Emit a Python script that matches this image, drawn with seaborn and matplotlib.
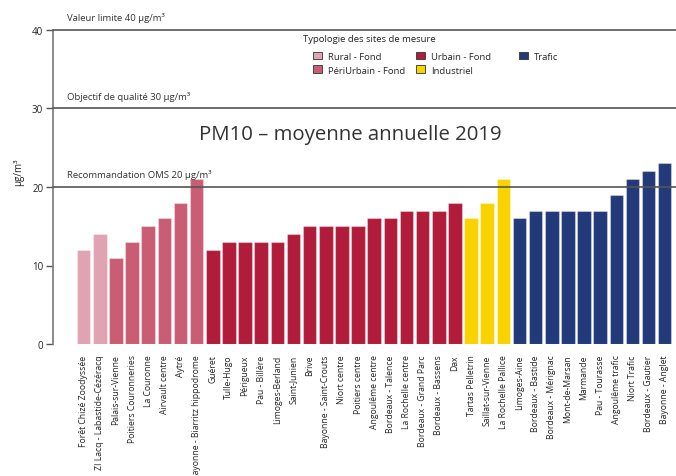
import matplotlib
matplotlib.use("Agg")
import matplotlib.pyplot as plt
import matplotlib.transforms as mtransforms
import seaborn as sns
import pandas as pd
from matplotlib.patches import Patch

sites = ["Forêt Chizé Zoodyssée", "ZI Lacq - Labastide-Cézéracq",
         "Palais-sur-Vienne", "Poitiers Couronneries", "La Couronne", "Airvault centre", "Aytré",
         "Bayonne - Biarritz hippodrome",
         "Guéret", "Tulle-Hugo", "Périgueux", "Pau - Billère", "Limoges-Berland", "Saint-Junien",
         "Brive", "Bayonne - Saint-Crouts", "Niort centre", "Poitiers centre", "Angoulême centre",
         "Bordeaux - Talence", "La Rochelle centre", "Bordeaux - Grand Parc", "Bordeaux - Bassens", "Dax",
         "Tartas Pelletrin", "Saillat-sur-Vienne", "La Rochelle Pallice",
         "Limoges-Aine", "Bordeaux - Bastide", "Bordeaux - Mérignac", "Mont-de-Marsan", "Marmande",
         "Pau - Tourasse", "Angoulême trafic", "Niort Trafic", "Bordeaux - Gautier", "Bayonne - Anglet"]
values = [12, 14,
          11, 13, 15, 16, 18, 21,
          12, 13, 13, 13, 13, 14, 15, 15, 15, 15, 16, 16, 17, 17, 17, 18,
          16, 18, 21,
          16, 17, 17, 17, 17, 17, 19, 21, 22, 23]
types = (["Rural - Fond"] * 2 + ["PériUrbain - Fond"] * 6 + ["Urbain - Fond"] * 16 +
         ["Industriel"] * 3 + ["Trafic"] * 10)
type_order = ["Rural - Fond", "PériUrbain - Fond", "Urbain - Fond", "Industriel", "Trafic"]
type_colors = ["#E0A3B1", "#C95D73", "#B01C3A", "#F9D300", "#223A7A"]
thresholds = [40, 30, 20]
threshold_labels = ["Valeur limite 40 µg/m³", "Objectif de qualité 30 µg/m³",
                    "Recommandation OMS 20 µg/m³"]
title = "PM10 – moyenne annuelle 2019"
legend_title = "Typologie des sites de mesure"

df = pd.DataFrame({"site": sites, "value": values, "type": types})

sns.set_style("white")
plt.rcParams["font.family"] = ["Open Sans", "DejaVu Sans"]

W, H = 676, 477
fig = plt.figure(figsize=(W / 100, H / 100), dpi=100)
ax = fig.add_axes([53 / W, 1 - 345 / H, 1 - 53 / W, (345 - 31) / H])

palette = dict(zip(type_order, type_colors))
sns.barplot(data=df, x="site", y="value", hue="type", hue_order=type_order,
            palette=palette, dodge=False, width=0.84, edgecolor=(1, 1, 1, 0.35),
            linewidth=0.8, legend=False, ax=ax, saturation=1)

ax.set_xlim(-1.9, len(sites) - 0.3)
ax.set_ylim(0, 40)
ax.set_yticks([0, 10, 20, 30, 40])
for t, lab in zip(thresholds, threshold_labels):
    ax.axhline(t, color="#555555", lw=1.2, zorder=5, clip_on=False)
    ax.annotate(lab, xy=(0, t), xycoords=("axes fraction", "data"),
                xytext=(10, 5.5), textcoords="offset points", fontsize=6.8,
                color="#333333", va="bottom", ha="left")

ax.text(0.478, 26.7, title,
        transform=mtransforms.blended_transform_factory(ax.transAxes, ax.transData),
        fontsize=14.7, color="#333333", ha="center", va="center")

for s in ["top", "right", "bottom"]:
    ax.spines[s].set_visible(False)
ax.spines["left"].set_color("#777777")
ax.spines["left"].set_linewidth(1.2)
ax.tick_params(axis="y", left=True, length=5, width=1, color="#555555", labelsize=7,
               labelcolor="#222222", pad=2)
ax.tick_params(axis="x", bottom=False, labelsize=6.2, labelcolor="#222222", rotation=90, pad=4)
ax.set_xlabel("")
ax.set_ylabel("µg/m³", fontsize=7, color="#222222")
ax.yaxis.set_label_coords(-0.046, 0.55)

# legend: title + three equally spaced columns
fig.text(303 / W, 1 - 40 / H, legend_title, fontsize=6.8, color="#222222",
         ha="left", va="center")
columns = [[0, 1], [2, 3], [4]]
col_x = [313, 416, 519]
for idx, cx in zip(columns, col_x):
    hs = [Patch(facecolor=type_colors[i], edgecolor="#333333", linewidth=0.6) for i in idx]
    fig.legend(hs, [type_order[i] for i in idx], loc="upper left",
               bbox_to_anchor=(cx / W, 1 - 52.5 / H), frameon=False, fontsize=6.8,
               handlelength=0.9, handleheight=0.9, handletextpad=0.7,
               labelspacing=0.5, borderpad=0, borderaxespad=0)

fig.savefig("out.png", dpi=100)
